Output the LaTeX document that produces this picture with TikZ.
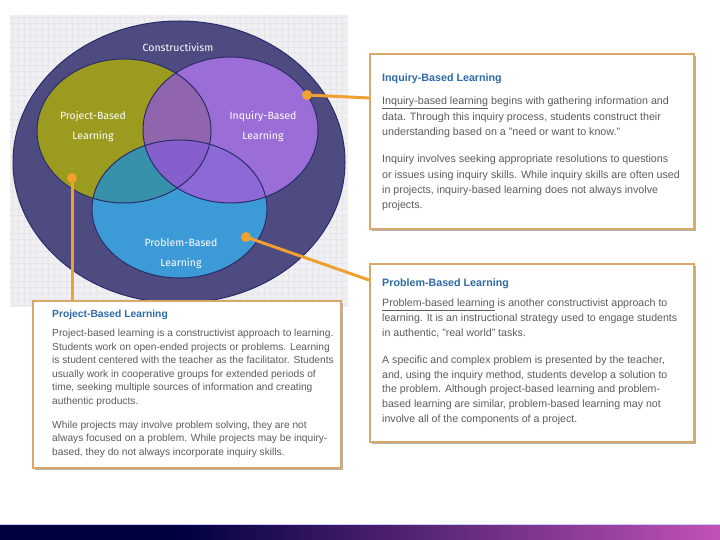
\documentclass[tikz,border=0pt]{standalone}
\usepackage{fontspec}
\setmainfont{Liberation Sans}
\newfontfamily\handfont{Fira Sans}
\definecolor{outerC}{HTML}{4D4B80}
\definecolor{oliveC}{HTML}{9B9B1F}
\definecolor{purpC}{HTML}{9B6ED7}
\definecolor{blueC}{HTML}{3C9BD7}
\definecolor{opC}{HTML}{9164AE}
\definecolor{obC}{HTML}{3791AA}
\definecolor{pbC}{HTML}{8C69D7}
\definecolor{triC}{HTML}{875FCD}
\definecolor{edgeC}{HTML}{2B2D6A}
\definecolor{gridbg}{HTML}{F0F0F3}
\definecolor{gridln}{HTML}{E6E6EB}
\definecolor{orangeC}{HTML}{F0A030}
\definecolor{tanC}{HTML}{D8A868}
\definecolor{titleC}{HTML}{2E6AA6}
\definecolor{bodyC}{HTML}{5C5C5C}
\definecolor{navyC}{HTML}{000040}
\definecolor{magC}{HTML}{C152B8}
\usetikzlibrary{calc}
\begin{document}
\begin{tikzpicture}[x=1pt,y=-1pt,
  infobox/.style={draw=tanC,line width=1.6pt,fill=white,inner sep=0pt,anchor=north west},
  shadowbox/.style={fill=black!30,inner sep=0pt,anchor=north west},
  boxtitle/.style={anchor=north west,inner sep=0pt,text=titleC,font=\fontsize{10.7}{13}\selectfont\bfseries},
  bodytext/.style={anchor=north west,inner sep=0pt,text=bodyC,align=left},
  venntext/.style={text=white,font=\handfont\fontsize{10.5}{20}\selectfont,align=center,inner sep=0pt},
  conn/.style={draw=orangeC,line width=3pt},
  dot/.style={fill=orangeC}
]
\useasboundingbox (0,0) rectangle (720,540);
\fill[white] (0,0) rectangle (720,540);
% grid background
\fill[gridbg] (10,15) rectangle (348,307);
\begin{scope}
\clip (10,15) rectangle (348,307);
\foreach \gx in {12,18,...,348} {\draw[gridln,line width=0.4pt] (\gx,15) -- (\gx,307);}
\foreach \gy in {17,23,...,307} {\draw[gridln,line width=0.4pt] (10,\gy) -- (348,\gy);}
\end{scope}
% outer ellipse
\fill[outerC,draw=edgeC,line width=1pt] (179,162) ellipse [x radius=166pt, y radius=141pt];
% venn fills
\def\olivepath{(124,131) ellipse [x radius=87pt, y radius=72pt]}
\def\purppath{(230.5,130) ellipse [x radius=87.5pt, y radius=73pt]}
\def\bluepath{(179.5,209) ellipse [x radius=87.5pt, y radius=69pt]}
\fill[oliveC] \olivepath;
\fill[purpC] \purppath;
\fill[blueC] \bluepath;
\begin{scope}\clip \olivepath; \fill[opC] \purppath; \end{scope}
\begin{scope}\clip \olivepath; \fill[obC] \bluepath; \end{scope}
\begin{scope}\clip \purppath; \fill[pbC] \bluepath; \end{scope}
\begin{scope}\clip \olivepath; \clip \purppath; \fill[triC] \bluepath; \end{scope}
\draw[edgeC,line width=1pt] \olivepath;
\draw[edgeC,line width=1pt] \purppath;
\draw[edgeC,line width=1pt] \bluepath;
% venn labels
\node[venntext] (lcons) at (178,47) {Constructivism};
\node[venntext] (lproj) at (93,127) {Project-Based\\Learning};
\node[venntext] (linq) at (263,127) {Inquiry-Based\\Learning};
\node[venntext] (lprob) at (181,254) {Problem-Based\\Learning};
% shadows
\node[shadowbox,minimum width=324pt,minimum height=175pt] (ishadow) at (372,56) {};
\node[shadowbox,minimum width=324pt,minimum height=178pt] (pshadow) at (372,266) {};
\node[shadowbox,minimum width=308pt,minimum height=167pt] (jshadow) at (35,303) {};
% connectors
\coordinate (dotI) at (307,95);
\coordinate (dotP) at (246,237);
\coordinate (dotJ) at (72,178);
% boxes
\node[infobox,minimum width=324pt,minimum height=175pt] (ibox) at (369,53) {};
\node[infobox,minimum width=324pt,minimum height=178pt] (pbox) at (369,263) {};
\node[infobox,minimum width=308pt,minimum height=167pt] (jbox) at (32,300) {};
\coordinate (endI) at ($(ibox.north west)+(0,45)$);
\coordinate (endP) at ($(pbox.north west)+(0,17)$);
\coordinate (endJ) at (jbox.north west -| dotJ);
\draw[conn] (dotI) -- (endI);
\draw[conn] (dotP) -- (endP);
\draw[conn] (dotJ) -- (endJ);
\fill[dot] (dotI) circle (5pt);
\fill[dot] (dotP) circle (5pt);
\fill[dot] (dotJ) circle (5pt);
% Inquiry text
\node[boxtitle] (ititle) at (382,74) {Inquiry-Based Learning};
\node[bodytext,font=\fontsize{10.7}{15.3}\selectfont] (ibody) at (382,97)
{\underline{Inquiry-based learning} begins with gathering information and\\
data. Through this inquiry process, students construct their\\
understanding based on a "need or want to know."\\[12pt]
Inquiry involves seeking appropriate resolutions to questions\\
or issues using inquiry skills. While inquiry skills are often used\\
in projects, inquiry-based learning does not always involve\\
projects.};
% Problem text
\node[boxtitle] (ptitle) at (382,279) {Problem-Based Learning};
\node[bodytext,font=\fontsize{10.6}{14.6}\selectfont] (pbody) at (382,299)
{\underline{Problem-based learning} is another constructivist approach to\\
learning. It is an instructional strategy used to engage students\\
in authentic, "real world" tasks.\\[13pt]
A specific and complex problem is presented by the teacher,\\
and, using the inquiry method, students develop a solution to\\
the problem. Although project-based learning and problem-\\
based learning are similar, problem-based learning may not\\
involve all of the components of a project.};
% Project text
\node[boxtitle,font=\fontsize{10.3}{13}\selectfont\bfseries] (jtitle) at (52,310) {Project-Based Learning};
\node[bodytext,font=\fontsize{10.2}{13.6}\selectfont] (jbody) at (52,329)
{Project-based learning is a constructivist approach to learning.\\
Students work on open-ended projects or problems. Learning\\
is student centered with the teacher as the facilitator. Students\\
usually work in cooperative groups for extended periods of\\
time, seeking multiple sources of information and creating\\
authentic products.\\[10pt]
While projects may involve problem solving, they are not\\
always focused on a problem. While projects may be inquiry-\\
based, they do not always incorporate inquiry skills.};
% bottom bar
\fill[navyC] (0,525) rectangle (180,540);
\fill[left color=navyC,right color=magC] (180,525) rectangle (720,540);
\draw[white!80!blue,line width=0.8pt] (0,524.5) -- (720,524.5);
\end{tikzpicture}
\end{document}
